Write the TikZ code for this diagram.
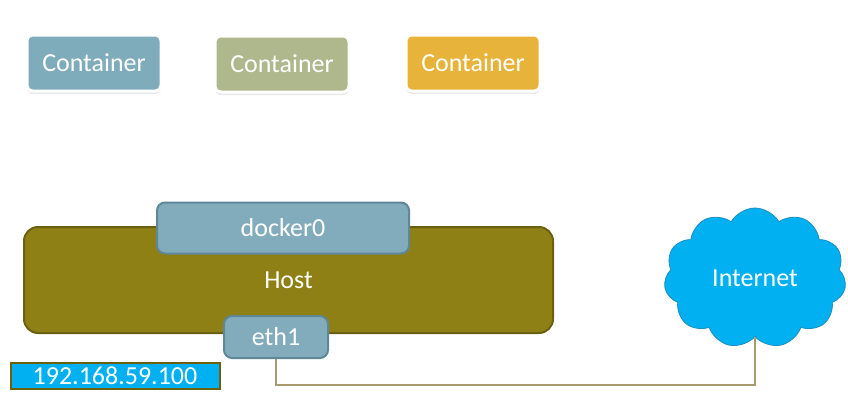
\documentclass[tikz,border=0pt]{standalone}
\usepackage{fontspec}
\setmainfont{Carlito}
\usetikzlibrary{shapes.symbols,shadows}
\definecolor{contA}{HTML}{7FACBB}
\definecolor{contB}{HTML}{AFB78D}
\definecolor{contC}{HTML}{E8B33A}
\definecolor{hostfill}{HTML}{8F8016}
\definecolor{hostedge}{HTML}{6B6010}
\definecolor{ifill}{HTML}{82ACBC}
\definecolor{iedge}{HTML}{5F8797}
\definecolor{cyanfill}{HTML}{00B0F0}
\definecolor{cloudedge}{HTML}{1A8FC4}
\definecolor{wire}{HTML}{A89B6E}
\tikzset{
  txt/.style={text=white,font=\fontsize{26}{30}\selectfont},
  contbox/.style={txt,rectangle,rounded corners=6pt,draw=white,line width=3pt,
    minimum width=134pt,minimum height=56pt,inner sep=0pt,
    drop shadow={opacity=0.18,shadow xshift=0pt,shadow yshift=-3pt}},
  ifbox/.style={txt,rectangle,rounded corners=8pt,fill=ifill,draw=iedge,line width=2pt,inner sep=0pt},
}
\begin{document}
\begin{tikzpicture}[x=1pt,y=-1pt]
\useasboundingbox (0,0) rectangle (848,418);
\node[contbox,fill=contA] (c1) at (94,63) {Container};
\node[contbox,fill=contB] (c2) at (282,64) {Container};
\node[contbox,fill=contC] (c3) at (473,63) {Container};
\node[txt,rectangle,rounded corners=14pt,fill=hostfill,draw=hostedge,line width=2pt,
  minimum width=529pt,minimum height=106pt,inner sep=0pt] (host) at (288.5,280) {Host};
\node[ifbox,minimum width=252pt,minimum height=51pt] (docker) at (283,228) {docker0};
\node[ifbox,minimum width=104pt,minimum height=42pt] (eth) at (276,337) {eth1};
\node[txt,rectangle,fill=cyanfill,draw=hostedge,line width=2pt,
  minimum width=209pt,minimum height=26pt,inner sep=0pt] (ip) at (115,376) {192.168.59.100};
\node[txt,cloud,cloud puffs=11,cloud puff arc=120,fill=cyanfill,draw=cloudedge,line width=0.8pt,
  minimum width=182pt,minimum height=140pt,inner sep=0pt,cloud ignores aspect] (net) at (755,278) {Internet};
\coordinate (bend) at (277,385);
\draw[wire,line width=1.2pt] (eth.south) -- (eth.south |- bend) -- (bend -| net.south) -- (net.south);
\end{tikzpicture}
\end{document}
